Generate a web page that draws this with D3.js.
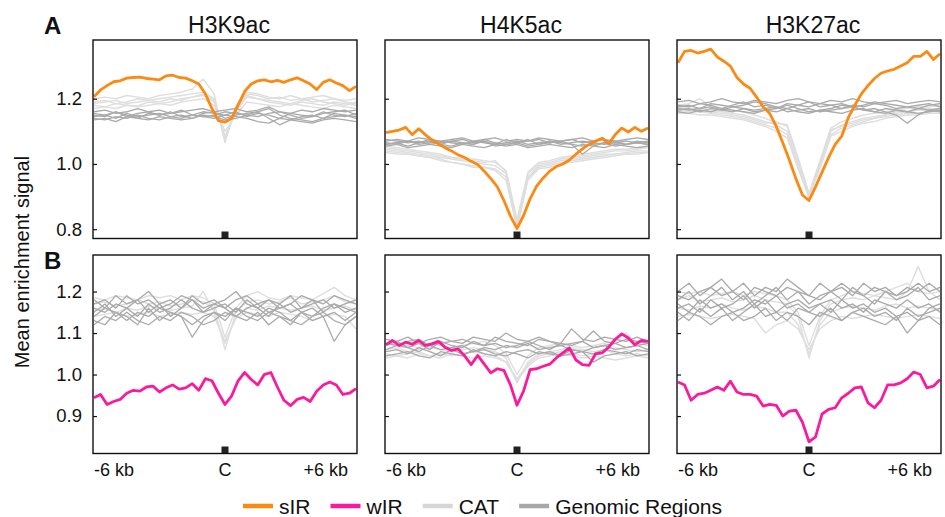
<!DOCTYPE html>
<html><head><meta charset="utf-8">
<script src="https://cdn.jsdelivr.net/npm/d3@7"></script>
<style>
html,body{margin:0;padding:0;background:#fff;}
svg{display:block;font-family:"Liberation Sans",Arial,sans-serif;}
</style></head>
<body>
<svg id="chart" width="945" height="517"></svg>
<script>
// ---------- DATA ----------
const marks = ["H3K9ac", "H4K5ac", "H3K27ac"];
const rowLetters = ["A", "B"];
const yTicksA = [0.8, 1.0, 1.2];
const yTicksB = [0.9, 1.0, 1.1, 1.2];
const xTickLabels = ["-6 kb", "C", "+6 kb"];
const legendLabels = ["sIR", "wIR", "CAT", "Genomic Regions"];

// sIR (row A)
const sIR_H3K9ac = [1.206,1.227,1.24,1.252,1.255,1.263,1.265,1.266,1.262,1.26,1.258,1.27,1.272,1.265,1.263,1.255,1.245,1.215,1.17,1.133,1.128,1.14,1.18,1.222,1.245,1.255,1.258,1.252,1.256,1.25,1.258,1.264,1.255,1.245,1.228,1.25,1.258,1.248,1.24,1.225,1.238];
const sIR_H4K5ac = [1.096,1.1,1.104,1.112,1.09,1.108,1.09,1.074,1.062,1.05,1.04,1.028,1.02,1.008,0.998,0.978,0.955,0.93,0.888,0.84,0.802,0.842,0.893,0.932,0.957,0.978,0.992,1.0,1.012,1.03,1.046,1.06,1.07,1.079,1.062,1.09,1.11,1.098,1.112,1.1,1.11];
const sIR_H3K27ac = [1.31,1.345,1.348,1.34,1.345,1.352,1.328,1.315,1.3,1.265,1.245,1.232,1.205,1.175,1.155,1.115,1.065,1.012,0.955,0.905,0.888,0.93,0.975,1.02,1.06,1.085,1.142,1.18,1.215,1.24,1.262,1.278,1.285,1.29,1.3,1.31,1.33,1.33,1.345,1.32,1.338];

// wIR (row B)
const wIR_H3K9ac = [0.944,0.952,0.928,0.935,0.94,0.955,0.962,0.96,0.97,0.972,0.958,0.968,0.975,0.965,0.968,0.978,0.962,0.99,0.985,0.955,0.928,0.948,0.985,1.005,0.988,0.975,1.0,1.005,0.97,0.938,0.925,0.94,0.945,0.935,0.96,0.975,0.982,0.975,0.952,0.955,0.966];
const wIR_H4K5ac = [1.072,1.082,1.07,1.078,1.073,1.082,1.07,1.074,1.08,1.066,1.058,1.062,1.045,1.024,1.046,1.025,1.004,1.014,1.01,0.975,0.926,0.96,1.012,1.014,1.02,1.025,1.04,1.052,1.064,1.035,1.024,1.022,1.05,1.052,1.066,1.085,1.098,1.088,1.072,1.082,1.08];
const wIR_H3K27ac = [0.982,0.975,0.938,0.952,0.955,0.962,0.97,0.962,0.984,0.958,0.952,0.952,0.948,0.924,0.928,0.926,0.9,0.912,0.914,0.885,0.838,0.85,0.905,0.916,0.92,0.944,0.955,0.968,0.97,0.932,0.92,0.938,0.975,0.975,0.98,0.99,1.006,1.0,0.968,0.972,0.988];

// CAT, row A
const catA_H3K9ac = [
 [1.19,1.195,1.185,1.19,1.2,1.195,1.2,1.205,1.21,1.215,1.22,1.2,1.07,1.17,1.215,1.21,1.2,1.205,1.195,1.2,1.19,1.195,1.2,1.19,1.185],
 [1.18,1.175,1.185,1.18,1.178,1.19,1.185,1.19,1.2,1.205,1.21,1.19,1.085,1.16,1.205,1.2,1.19,1.185,1.18,1.19,1.185,1.18,1.19,1.185,1.18],
 [1.2,1.205,1.2,1.21,1.205,1.2,1.21,1.215,1.22,1.23,1.26,1.215,1.065,1.18,1.22,1.215,1.205,1.2,1.21,1.2,1.205,1.21,1.2,1.195,1.2],
 [1.17,1.175,1.17,1.18,1.175,1.18,1.185,1.18,1.19,1.195,1.2,1.18,1.1,1.15,1.19,1.185,1.18,1.175,1.185,1.18,1.175,1.17,1.18,1.175,1.17],
 [1.185,1.19,1.195,1.185,1.19,1.195,1.19,1.2,1.195,1.205,1.215,1.195,1.08,1.165,1.21,1.2,1.195,1.19,1.185,1.195,1.2,1.19,1.185,1.18,1.19]];
const catA_H4K5ac = [
 [1.045,1.04,1.035,1.03,1.025,1.02,1.015,1.01,1.005,1.0,0.995,0.97,0.81,0.96,0.995,1.0,1.01,1.015,1.02,1.025,1.03,1.03,1.035,1.04,1.04],
 [1.035,1.03,1.03,1.025,1.02,1.015,1.005,1.0,0.995,0.99,0.985,0.96,0.8,0.955,0.99,0.995,1.005,1.01,1.015,1.02,1.025,1.03,1.03,1.035,1.035],
 [1.05,1.045,1.04,1.035,1.03,1.025,1.02,1.015,1.01,1.005,1.01,0.975,0.82,0.97,1.0,1.005,1.015,1.02,1.025,1.03,1.035,1.04,1.04,1.045,1.05],
 [1.04,1.035,1.03,1.025,1.02,1.01,1.005,1.0,0.99,0.99,0.98,0.95,0.805,0.95,0.985,0.99,1.0,1.005,1.01,1.015,1.02,1.025,1.03,1.03,1.035],
 [1.055,1.05,1.045,1.04,1.035,1.03,1.02,1.015,1.015,1.01,1.005,0.98,0.83,0.975,1.005,1.01,1.02,1.025,1.03,1.035,1.04,1.045,1.045,1.05,1.055]];
const catA_H3K27ac = [
 [1.175,1.17,1.17,1.165,1.16,1.155,1.15,1.14,1.13,1.12,1.1,1.0,0.9,1.0,1.1,1.12,1.13,1.14,1.145,1.15,1.155,1.16,1.165,1.165,1.17],
 [1.165,1.16,1.16,1.155,1.15,1.145,1.14,1.13,1.12,1.11,1.09,0.99,0.895,0.99,1.09,1.11,1.12,1.13,1.14,1.145,1.15,1.155,1.155,1.16,1.16],
 [1.18,1.185,1.2,1.175,1.17,1.165,1.16,1.15,1.14,1.125,1.12,1.02,0.91,1.01,1.11,1.13,1.14,1.15,1.155,1.16,1.165,1.17,1.175,1.175,1.18],
 [1.155,1.155,1.15,1.15,1.145,1.14,1.135,1.125,1.115,1.1,1.08,0.985,0.9,0.985,1.085,1.1,1.115,1.125,1.13,1.14,1.145,1.15,1.15,1.155,1.155],
 [1.17,1.165,1.165,1.16,1.155,1.15,1.145,1.135,1.125,1.13,1.115,1.01,0.905,1.0,1.105,1.115,1.125,1.135,1.14,1.15,1.16,1.16,1.17,1.17,1.165]];

// Genomic regions, row A
const genA_H3K9ac = [
 [1.15,1.145,1.16,1.15,1.14,1.155,1.15,1.16,1.145,1.15,1.16,1.155,1.15,1.16,1.145,1.155,1.15,1.14,1.155,1.15,1.145,1.16,1.15,1.145,1.155],
 [1.14,1.135,1.145,1.14,1.15,1.14,1.135,1.145,1.14,1.15,1.145,1.14,1.15,1.145,1.14,1.13,1.125,1.14,1.135,1.13,1.125,1.135,1.14,1.135,1.13],
 [1.16,1.165,1.155,1.16,1.17,1.16,1.165,1.155,1.16,1.165,1.17,1.16,1.165,1.17,1.16,1.165,1.175,1.16,1.155,1.165,1.16,1.17,1.165,1.16,1.165],
 [1.145,1.15,1.14,1.155,1.145,1.15,1.155,1.145,1.15,1.14,1.155,1.16,1.14,1.15,1.155,1.16,1.14,1.12,1.135,1.145,1.15,1.14,1.155,1.15,1.145],
 [1.155,1.15,1.16,1.145,1.155,1.16,1.15,1.155,1.165,1.15,1.145,1.15,1.16,1.155,1.15,1.145,1.155,1.16,1.15,1.14,1.145,1.155,1.16,1.165,1.15],
 [1.135,1.14,1.13,1.145,1.14,1.135,1.145,1.14,1.135,1.14,1.15,1.145,1.135,1.14,1.15,1.16,1.17,1.15,1.14,1.135,1.13,1.14,1.145,1.15,1.14]];
const genA_H4K5ac = [
 [1.06,1.065,1.07,1.06,1.065,1.07,1.065,1.06,1.07,1.065,1.06,1.065,1.07,1.06,1.065,1.07,1.06,1.065,1.07,1.065,1.06,1.065,1.07,1.065,1.06],
 [1.07,1.075,1.07,1.08,1.075,1.07,1.075,1.08,1.07,1.075,1.08,1.07,1.075,1.07,1.08,1.075,1.07,1.075,1.08,1.07,1.075,1.07,1.075,1.08,1.075],
 [1.055,1.06,1.05,1.055,1.06,1.055,1.05,1.06,1.055,1.05,1.06,1.055,1.06,1.05,1.055,1.06,1.055,1.05,1.06,1.055,1.05,1.06,1.055,1.05,1.055],
 [1.065,1.06,1.07,1.065,1.075,1.06,1.07,1.065,1.06,1.075,1.065,1.06,1.065,1.075,1.06,1.07,1.065,1.06,1.03,1.055,1.065,1.07,1.06,1.065,1.07],
 [1.075,1.07,1.065,1.07,1.06,1.065,1.07,1.075,1.065,1.07,1.06,1.075,1.065,1.07,1.075,1.065,1.07,1.075,1.065,1.07,1.075,1.065,1.06,1.07,1.065],
 [1.06,1.065,1.055,1.065,1.07,1.06,1.055,1.065,1.06,1.07,1.055,1.06,1.065,1.055,1.06,1.065,1.07,1.06,1.055,1.06,1.065,1.055,1.06,1.065,1.06]];
const genA_H3K27ac = [
 [1.18,1.175,1.185,1.18,1.17,1.18,1.19,1.175,1.18,1.17,1.185,1.18,1.175,1.185,1.18,1.17,1.18,1.175,1.185,1.18,1.17,1.175,1.18,1.185,1.175],
 [1.17,1.165,1.17,1.175,1.165,1.16,1.17,1.165,1.17,1.175,1.16,1.165,1.17,1.16,1.165,1.17,1.175,1.165,1.16,1.17,1.165,1.16,1.17,1.165,1.16],
 [1.19,1.195,1.185,1.19,1.2,1.19,1.185,1.195,1.19,1.185,1.195,1.2,1.19,1.185,1.195,1.19,1.2,1.19,1.185,1.19,1.195,1.185,1.19,1.195,1.19],
 [1.165,1.17,1.16,1.17,1.165,1.175,1.17,1.16,1.165,1.17,1.18,1.17,1.16,1.165,1.17,1.18,1.175,1.165,1.17,1.16,1.15,1.125,1.15,1.165,1.17],
 [1.175,1.18,1.17,1.185,1.18,1.175,1.18,1.19,1.185,1.175,1.17,1.18,1.19,1.175,1.18,1.185,1.175,1.18,1.19,1.185,1.18,1.175,1.17,1.18,1.185],
 [1.16,1.155,1.165,1.16,1.17,1.165,1.16,1.155,1.165,1.16,1.17,1.16,1.155,1.165,1.16,1.155,1.165,1.17,1.16,1.155,1.165,1.16,1.155,1.16,1.165]];

// CAT, row B
const catB_H3K9ac = [
 [1.17,1.175,1.165,1.17,1.18,1.17,1.175,1.165,1.17,1.18,1.175,1.16,1.06,1.15,1.175,1.18,1.17,1.175,1.185,1.17,1.175,1.18,1.19,1.175,1.17],
 [1.155,1.16,1.15,1.16,1.155,1.165,1.16,1.155,1.16,1.165,1.2,1.15,1.075,1.14,1.16,1.155,1.165,1.16,1.155,1.16,1.165,1.155,1.16,1.165,1.155],
 [1.185,1.18,1.19,1.185,1.18,1.19,1.185,1.19,1.18,1.19,1.185,1.17,1.09,1.16,1.19,1.2,1.185,1.18,1.19,1.185,1.18,1.195,1.21,1.19,1.18],
 [1.14,1.145,1.15,1.14,1.145,1.15,1.14,1.145,1.15,1.145,1.15,1.14,1.08,1.135,1.15,1.145,1.14,1.15,1.145,1.14,1.13,1.14,1.145,1.14,1.11]];
const catB_H4K5ac = [
 [1.06,1.065,1.055,1.06,1.065,1.06,1.055,1.06,1.065,1.06,1.055,1.04,0.98,1.03,1.05,1.055,1.06,1.065,1.06,1.055,1.06,1.065,1.06,1.055,1.06],
 [1.05,1.045,1.05,1.055,1.045,1.05,1.045,1.05,1.055,1.05,1.045,1.03,0.99,1.025,1.045,1.05,1.055,1.05,1.045,1.05,1.06,1.05,1.045,1.05,1.045],
 [1.07,1.075,1.07,1.065,1.075,1.07,1.065,1.07,1.075,1.08,1.07,1.05,1.0,1.045,1.065,1.07,1.075,1.07,1.065,1.07,1.075,1.08,1.1,1.075,1.07],
 [1.04,1.045,1.04,1.05,1.045,1.04,1.05,1.045,1.04,1.045,1.04,1.03,0.985,1.02,1.04,1.045,1.05,1.045,1.04,1.045,1.04,1.035,1.04,1.045,1.04]];
const catB_H3K27ac = [
 [1.18,1.19,1.175,1.18,1.185,1.175,1.18,1.19,1.18,1.175,1.17,1.14,1.04,1.13,1.17,1.18,1.185,1.18,1.19,1.185,1.18,1.2,1.26,1.2,1.18],
 [1.16,1.155,1.165,1.16,1.17,1.16,1.155,1.165,1.16,1.15,1.15,1.12,1.05,1.12,1.15,1.16,1.165,1.16,1.155,1.165,1.17,1.16,1.165,1.16,1.155],
 [1.2,1.195,1.2,1.19,1.195,1.2,1.19,1.2,1.195,1.19,1.18,1.15,1.07,1.14,1.18,1.19,1.2,1.195,1.19,1.2,1.21,1.22,1.2,1.195,1.2],
 [1.14,1.145,1.14,1.135,1.14,1.145,1.14,1.135,1.1,1.12,1.13,1.11,1.06,1.11,1.13,1.14,1.135,1.14,1.145,1.14,1.135,1.14,1.145,1.14,1.135]];

// Genomic regions, row B
const genB_H3K9ac = [
 [1.15,1.17,1.14,1.16,1.18,1.15,1.17,1.14,1.16,1.18,1.15,1.16,1.17,1.15,1.18,1.16,1.14,1.17,1.15,1.16,1.18,1.15,1.17,1.16,1.15],
 [1.13,1.12,1.15,1.14,1.12,1.16,1.13,1.15,1.14,1.12,1.14,1.15,1.13,1.16,1.14,1.13,1.15,1.14,1.12,1.15,1.13,1.14,1.08,1.12,1.14],
 [1.17,1.18,1.16,1.19,1.17,1.18,1.16,1.17,1.19,1.18,1.16,1.17,1.18,1.2,1.17,1.16,1.18,1.17,1.19,1.16,1.17,1.18,1.16,1.17,1.18],
 [1.14,1.16,1.15,1.13,1.15,1.14,1.16,1.15,1.14,1.09,1.13,1.15,1.14,1.16,1.15,1.14,1.16,1.15,1.13,1.15,1.16,1.14,1.15,1.13,1.15],
 [1.16,1.15,1.17,1.16,1.14,1.17,1.15,1.16,1.18,1.16,1.15,1.17,1.16,1.14,1.16,1.17,1.15,1.16,1.17,1.15,1.14,1.16,1.17,1.15,1.16],
 [1.12,1.14,1.13,1.15,1.13,1.12,1.14,1.13,1.15,1.14,1.12,1.13,1.15,1.14,1.13,1.15,1.12,1.14,1.13,1.12,1.14,1.15,1.13,1.12,1.14],
 [1.18,1.16,1.19,1.17,1.18,1.2,1.17,1.18,1.16,1.19,1.17,1.18,1.16,1.18,1.19,1.17,1.18,1.16,1.17,1.19,1.18,1.17,1.19,1.18,1.17]];
const genB_H4K5ac = [
 [1.07,1.08,1.065,1.075,1.06,1.08,1.07,1.065,1.08,1.07,1.075,1.065,1.07,1.08,1.07,1.06,1.075,1.07,1.08,1.065,1.07,1.075,1.065,1.07,1.075],
 [1.055,1.06,1.05,1.065,1.055,1.045,1.06,1.05,1.055,1.06,1.05,1.045,1.055,1.06,1.05,1.055,1.045,1.06,1.055,1.05,1.06,1.055,1.05,1.06,1.055],
 [1.085,1.08,1.09,1.075,1.085,1.09,1.08,1.075,1.09,1.085,1.08,1.1,1.085,1.08,1.09,1.08,1.075,1.11,1.085,1.08,1.09,1.085,1.08,1.09,1.08],
 [1.06,1.07,1.065,1.055,1.07,1.06,1.065,1.07,1.055,1.065,1.06,1.07,1.065,1.075,1.06,1.065,1.07,1.06,1.055,1.065,1.07,1.06,1.065,1.07,1.06],
 [1.045,1.05,1.055,1.045,1.04,1.055,1.05,1.045,1.06,1.05,1.045,1.055,1.05,1.04,1.055,1.05,1.045,1.05,1.055,1.03,1.045,1.05,1.055,1.045,1.05],
 [1.075,1.07,1.08,1.085,1.07,1.075,1.08,1.085,1.075,1.07,1.09,1.08,1.075,1.07,1.085,1.08,1.07,1.075,1.08,1.105,1.08,1.075,1.085,1.08,1.075]];
const genB_H3K27ac = [
 [1.18,1.2,1.17,1.19,1.21,1.18,1.2,1.17,1.19,1.21,1.18,1.2,1.17,1.19,1.2,1.18,1.21,1.19,1.17,1.2,1.18,1.19,1.21,1.18,1.19],
 [1.15,1.13,1.16,1.14,1.16,1.13,1.15,1.17,1.14,1.15,1.13,1.16,1.15,1.14,1.16,1.13,1.15,1.16,1.14,1.15,1.13,1.16,1.14,1.15,1.16],
 [1.2,1.22,1.19,1.21,1.23,1.2,1.22,1.19,1.21,1.2,1.23,1.21,1.19,1.22,1.2,1.21,1.19,1.22,1.2,1.21,1.19,1.2,1.22,1.2,1.21],
 [1.16,1.17,1.15,1.18,1.16,1.17,1.19,1.16,1.18,1.15,1.17,1.18,1.16,1.17,1.15,1.18,1.16,1.17,1.15,1.16,1.14,1.1,1.13,1.16,1.17],
 [1.17,1.15,1.18,1.16,1.17,1.15,1.16,1.18,1.17,1.19,1.16,1.17,1.15,1.17,1.18,1.16,1.17,1.15,1.18,1.17,1.16,1.18,1.16,1.17,1.15],
 [1.13,1.15,1.14,1.12,1.14,1.15,1.13,1.14,1.16,1.13,1.15,1.14,1.12,1.15,1.14,1.13,1.15,1.14,1.13,1.12,1.14,1.15,1.13,1.14,1.12],
 [1.19,1.18,1.2,1.21,1.19,1.2,1.18,1.21,1.2,1.19,1.21,1.2,1.19,1.18,1.2,1.22,1.2,1.19,1.21,1.2,1.19,1.21,1.2,1.22,1.2]];

// ---------- LAYOUT / STYLE ----------
const colors = {sIR: "#fb8a12", wIR: "#fa1b9c", CAT: "#dedede", GEN: "#aaaaaa", axis: "#111"};
const colLeft = [93, 385, 677];
const panelW = 264;
const rowTop = [40, 255];
const panelH = 198.5;
const yDomains = [[0.7715, 1.380], [0.8098, 1.288]];

const rows = [
  {main: [sIR_H3K9ac, sIR_H4K5ac, sIR_H3K27ac], cat: [catA_H3K9ac, catA_H4K5ac, catA_H3K27ac], gen: [genA_H3K9ac, genA_H4K5ac, genA_H3K27ac], color: colors.sIR, ticks: yTicksA},
  {main: [wIR_H3K9ac, wIR_H4K5ac, wIR_H3K27ac], cat: [catB_H3K9ac, catB_H4K5ac, catB_H3K27ac], gen: [genB_H3K9ac, genB_H4K5ac, genB_H3K27ac], color: colors.wIR, ticks: yTicksB}
];

const svg = d3.select("#chart");
const defs = svg.append("defs");

rows.forEach((row, r) => {
  const top = rowTop[r];
  const y = d3.scaleLinear().domain(yDomains[r]).range([top + panelH, top]);
  marks.forEach((mark, c) => {
    const left = colLeft[c];
    const right = left + panelW;
    const g = svg.append("g");
    const clipId = `clip-${r}-${c}`;
    defs.append("clipPath").attr("id", clipId).append("rect")
      .attr("x", left).attr("y", top).attr("width", panelW).attr("height", panelH);
    const plot = g.append("g").attr("clip-path", `url(#${clipId})`);

    const drawLines = (arrs, color, width) => {
      arrs.forEach(vals => {
        const x = d3.scaleLinear().domain([0, vals.length - 1]).range([left + 1, right - 1]);
        plot.append("path").datum(vals)
          .attr("fill", "none").attr("stroke", color).attr("stroke-width", width)
          .attr("stroke-linejoin", "round")
          .attr("d", d3.line().x((d, i) => x(i)).y(d => y(d)));
      });
    };
    drawLines(row.cat[c], colors.CAT, 1.4);
    drawLines(row.gen[c], colors.GEN, 1.3);
    drawLines([row.main[c]], row.color, 2.8);

    // center marker
    g.append("rect").attr("x", (left + right) / 2 - 3.5).attr("y", top + panelH - 7)
      .attr("width", 7).attr("height", 7).attr("fill", "#222");

    // y axis ticks (inward)
    const ax = d3.axisLeft(y).tickValues(row.ticks).tickSize(-4).tickPadding(11)
      .tickFormat(d3.format(".1f"));
    const axg = g.append("g").attr("transform", `translate(${left},0)`).call(ax);
    axg.select(".domain").remove();
    axg.selectAll(".tick line").attr("stroke", colors.axis).attr("stroke-width", 1.2);
    axg.selectAll(".tick text").attr("font-size", 18.5).attr("fill", "#111")
      .attr("font-family", '"Liberation Sans", Arial, sans-serif');
    if (c !== 0) axg.selectAll(".tick text").remove();

    // frame
    g.append("rect").attr("x", left).attr("y", top).attr("width", panelW).attr("height", panelH)
      .attr("fill", "none").attr("stroke", colors.axis).attr("stroke-width", 1.4);

    // titles
    if (r === 0) {
      g.append("text").attr("x", (left + right) / 2 + 4).attr("y", 33)
        .attr("text-anchor", "middle").attr("font-size", 23).attr("fill", "#111").text(mark);
    }
    // x labels
    if (r === 1) {
      const ly = top + panelH + 22;
      const anchors = ["start", "middle", "end"];
      const xs = [left + 1, (left + right) / 2, right - 9];
      xTickLabels.forEach((t, k) => {
        g.append("text").attr("x", xs[k]).attr("y", ly).attr("text-anchor", anchors[k])
          .attr("font-size", 18).attr("fill", "#111").text(t);
      });
    }
  });
  // row letter
  svg.append("text").attr("x", 44).attr("y", r === 0 ? 34 : 269)
    .attr("font-size", 24).attr("font-weight", "bold").attr("fill", "#111").text(rowLetters[r]);
});

// y axis label
svg.append("text").attr("transform", "translate(29,262) rotate(-90)")
  .attr("text-anchor", "middle").attr("font-size", 20).attr("fill", "#111")
  .text("Mean enrichment signal");

// legend
const legColors = [colors.sIR, colors.wIR, "#d6d6d6", "#a8a8a8"];
let lx = 243;
const legY = 506;
legendLabels.forEach((lab, i) => {
  svg.append("line").attr("x1", lx).attr("x2", lx + 30).attr("y1", legY).attr("y2", legY)
    .attr("stroke", legColors[i]).attr("stroke-width", 4.5);
  const t = svg.append("text").attr("x", lx + 36).attr("y", legY + 8)
    .attr("font-size", 21).attr("fill", "#111").text(lab);
  lx += 36 + t.node().getComputedTextLength() + 20;
});
</script>
</body></html>
